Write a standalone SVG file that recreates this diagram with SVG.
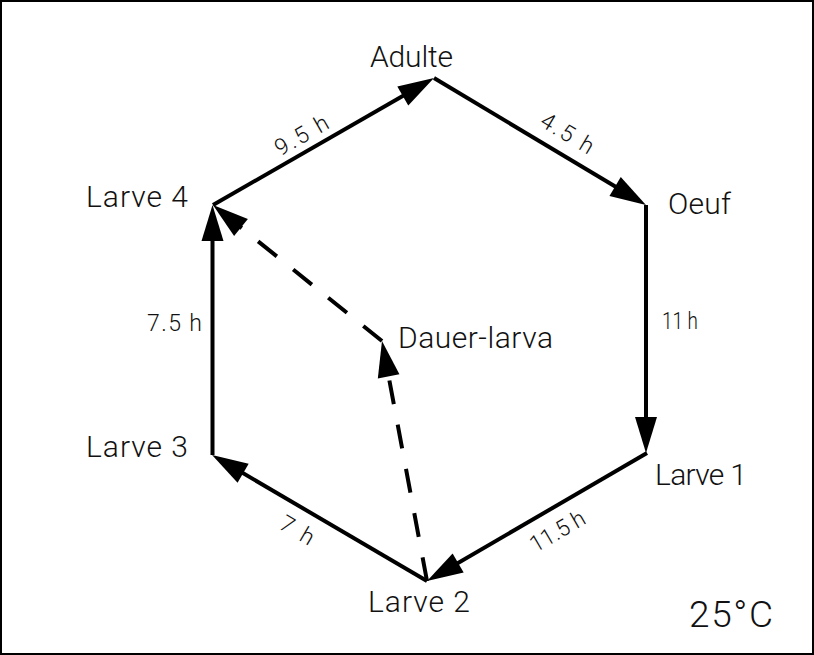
<svg xmlns="http://www.w3.org/2000/svg" width="814" height="655" viewBox="0 0 814 655">
<style>
.edge{stroke:#000;stroke-width:4;fill:none;marker-end:url(#ah)}
.dash{stroke-dasharray:24 21}
.lbl{font-family:Roboto,"Liberation Sans",Arial,sans-serif;font-weight:300;font-size:30px;fill:#111}
.t{font-family:Roboto,"Liberation Sans",Arial,sans-serif;font-weight:300;font-size:23px;fill:#111}
</style>
<defs>
<marker id="ah" markerUnits="userSpaceOnUse" orient="auto" refX="0" refY="0" markerWidth="40" markerHeight="30" overflow="visible">
<path d="M12,0 L-24,-11 L-24,11 Z" fill="#000"/>
</marker>
</defs>
<rect x="1" y="1" width="812" height="653" fill="#fff" stroke="#000" stroke-width="2"/>
<g id="connectors">
<line class="edge" x1="213" y1="205" x2="423.6" y2="84"/>
<line class="edge" x1="434" y1="78" x2="635.7" y2="198.8"/>
<line class="edge" x1="646" y1="205" x2="646" y2="441"/>
<line class="edge" x1="647" y1="453" x2="437.4" y2="575"/>
<line class="edge" x1="427" y1="581" x2="222.4" y2="461.1"/>
<line class="edge" x1="212.5" y1="455" x2="212.5" y2="217"/>
<line class="edge dash" x1="427" y1="581" x2="384.2" y2="352.8"/>
<line class="edge dash" x1="382" y1="341" x2="222.3" y2="212.5"/>
<text class="t" x="305.5" y="142" text-anchor="middle" textLength="58" transform="rotate(-29.9 305.5 142)">9.5 h</text>
<text class="t" x="563.4" y="140" text-anchor="middle" textLength="58" transform="rotate(30.9 563.4 140)">4.5 h</text>
<text class="t" x="662" y="329" textLength="36" lengthAdjust="spacingAndGlyphs">11 h</text>
<text class="t" x="561.5" y="538" text-anchor="middle" textLength="60" lengthAdjust="spacingAndGlyphs" transform="rotate(-30.2 561.5 538)">11.5 h</text>
<text class="t" x="293.4" y="537" text-anchor="middle" textLength="36" transform="rotate(30.4 293.4 537)">7 h</text>
<text class="t" x="147" y="331" textLength="55">7.5 h</text>
</g>
<g id="adulte"><text class="lbl" x="370" y="67" textLength="83">Adulte</text></g>
<g id="oeuf"><text class="lbl" x="668" y="214" textLength="63">Oeuf</text></g>
<g id="larve1"><text class="lbl" x="655" y="485" textLength="92">Larve 1</text></g>
<g id="larve2"><text class="lbl" x="368" y="612" textLength="102">Larve 2</text></g>
<g id="larve3"><text class="lbl" x="86" y="457" textLength="102">Larve 3</text></g>
<g id="larve4"><text class="lbl" x="86" y="207" textLength="102">Larve 4</text></g>
<g id="dauer"><text class="lbl" x="398" y="348" textLength="155">Dauer-larva</text></g>
<g id="temp"><text class="lbl" x="689" y="627" textLength="84" style="font-size:37px">25°C</text></g>
</svg>
